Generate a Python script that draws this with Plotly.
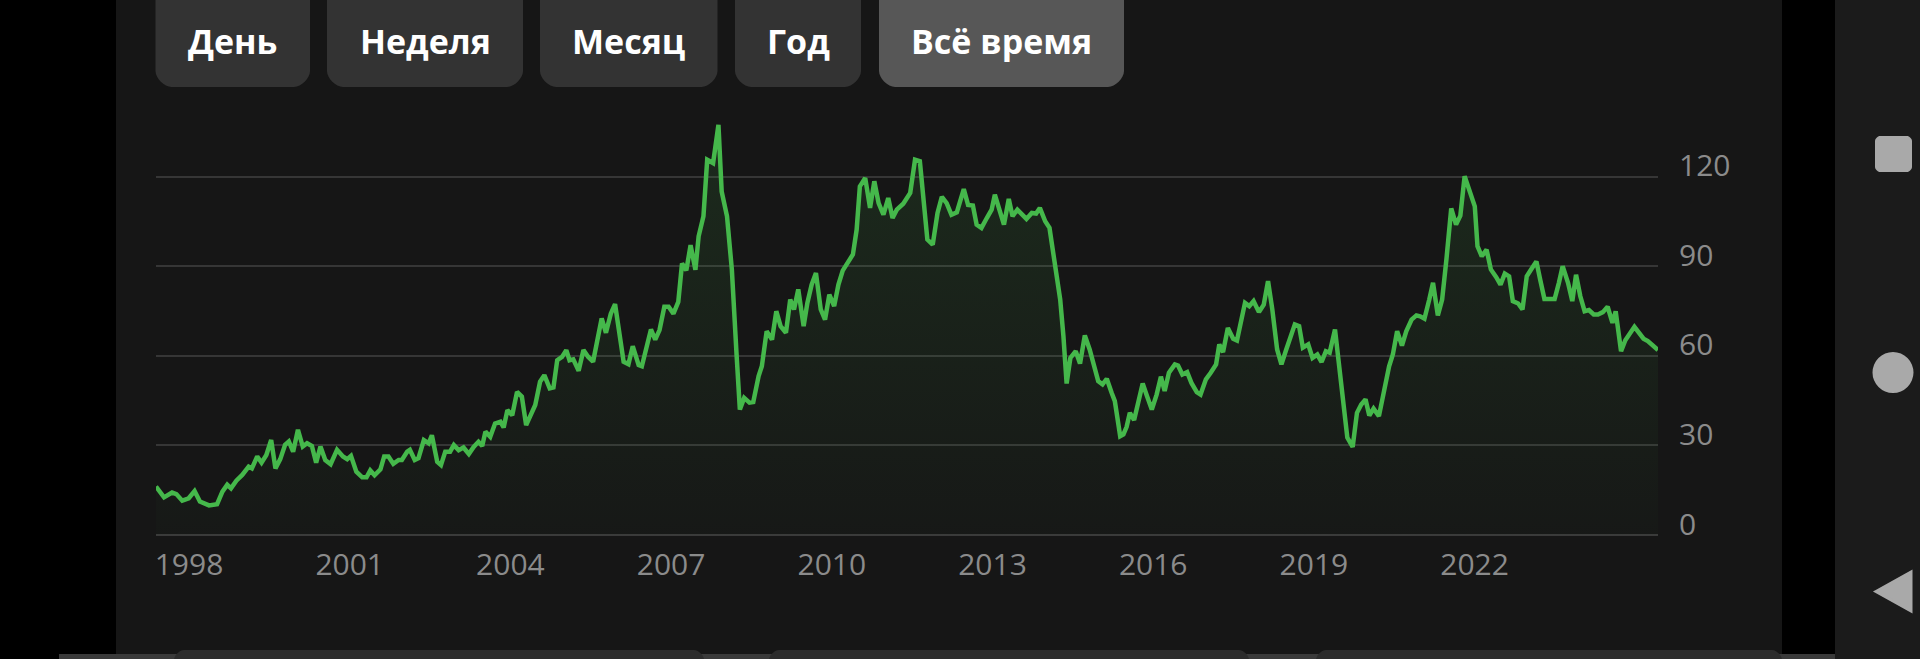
import plotly.graph_objects as go

# ---------------- data ----------------
dates = [
    1998.00, 1998.15, 1998.30, 1998.38, 1998.49, 1998.61, 1998.72, 1998.82, 1998.99,
    1999.14, 1999.24, 1999.33, 1999.40, 1999.50, 1999.61, 1999.73, 1999.79, 1999.89, 1999.97,
    2000.06, 2000.15, 2000.23, 2000.32, 2000.41, 2000.48, 2000.56, 2000.65, 2000.74, 2000.82, 2000.91, 2000.99,
    2001.07, 2001.16, 2001.26, 2001.38, 2001.49, 2001.57, 2001.64, 2001.74, 2001.85, 2001.93,
    2002.00, 2002.08, 2002.19, 2002.26, 2002.34, 2002.43, 2002.53, 2002.59, 2002.69, 2002.74, 2002.83, 2002.90,
    2003.00, 2003.09, 2003.15, 2003.25, 2003.32, 2003.40, 2003.49, 2003.56, 2003.65, 2003.74, 2003.84, 2003.93,
    2004.02, 2004.09, 2004.15, 2004.24, 2004.33, 2004.43, 2004.49, 2004.56, 2004.65, 2004.74, 2004.83, 2004.91, 2004.99,
    2005.08, 2005.17, 2005.25, 2005.35, 2005.42, 2005.49, 2005.58, 2005.66, 2005.72, 2005.79, 2005.89, 2005.98,
    2006.07, 2006.16, 2006.23, 2006.32, 2006.40, 2006.49, 2006.57, 2006.65, 2006.73, 2006.82, 2006.90,
    2007.01, 2007.07, 2007.16, 2007.24, 2007.32, 2007.40, 2007.49, 2007.57, 2007.66, 2007.75, 2007.82, 2007.90, 2007.98,
    2008.07, 2008.13, 2008.22, 2008.29, 2008.40, 2008.50, 2008.56, 2008.66, 2008.75, 2008.84, 2008.90, 2008.98,
    2009.08, 2009.15, 2009.25, 2009.31, 2009.40, 2009.50, 2009.58, 2009.66, 2009.76, 2009.84, 2009.91, 2009.99,
    2010.09, 2010.16, 2010.24, 2010.32, 2010.41, 2010.49, 2010.57, 2010.66, 2010.74, 2010.82, 2010.91,
    2011.01, 2011.08, 2011.14, 2011.24, 2011.33, 2011.41, 2011.49, 2011.58, 2011.67, 2011.75, 2011.83, 2011.95,
    2012.08, 2012.17, 2012.26, 2012.40, 2012.50, 2012.59, 2012.67, 2012.76, 2012.85, 2012.95,
    2013.08, 2013.16, 2013.25, 2013.32, 2013.41, 2013.51, 2013.60, 2013.66, 2013.74, 2013.83, 2013.92, 2013.99,
    2014.08, 2014.16, 2014.25, 2014.35, 2014.43, 2014.50, 2014.60, 2014.68, 2014.78, 2014.88, 2014.94,
    2015.00, 2015.07, 2015.17, 2015.25, 2015.34, 2015.43, 2015.50, 2015.59, 2015.67, 2015.75, 2015.84, 2015.90,
    2016.00, 2016.06, 2016.12, 2016.18, 2016.26, 2016.34, 2016.42, 2016.50, 2016.59, 2016.68, 2016.76, 2016.83, 2016.91,
    2017.02, 2017.08, 2017.16, 2017.25, 2017.33, 2017.43, 2017.50, 2017.60, 2017.69, 2017.79, 2017.85, 2017.92,
    2018.01, 2018.11, 2018.18, 2018.33, 2018.41, 2018.49, 2018.59, 2018.68, 2018.76, 2018.84, 2018.93,
    2019.01, 2019.10, 2019.18, 2019.26, 2019.34, 2019.41, 2019.51, 2019.59, 2019.68, 2019.76, 2019.84, 2019.91,
    2020.01, 2020.10, 2020.24, 2020.34, 2020.42, 2020.50, 2020.58, 2020.65, 2020.73, 2020.83, 2020.94,
    2021.02, 2021.09, 2021.17, 2021.26, 2021.34, 2021.44, 2021.53, 2021.60, 2021.68, 2021.77, 2021.84, 2021.93,
    2022.01, 2022.09, 2022.18, 2022.27, 2022.35, 2022.43, 2022.53, 2022.62, 2022.67, 2022.75, 2022.84, 2022.92,
    2023.02, 2023.10, 2023.18, 2023.26, 2023.33, 2023.43, 2023.51, 2023.59, 2023.68, 2023.77, 2023.84, 2023.92,
    2024.02, 2024.11, 2024.19, 2024.26, 2024.36, 2024.44, 2024.51, 2024.59, 2024.67, 2024.75, 2024.84, 2024.92,
    2025.01, 2025.10, 2025.19, 2025.25, 2025.35, 2025.43, 2025.60, 2025.68, 2025.77, 2025.85, 2026.04,
]

prices = [
    16.2, 12.6, 14.2, 13.7, 11.5, 12.3, 14.7, 11.2, 9.9,
    10.3, 14.5, 16.8, 15.6, 18.2, 20.1, 22.9, 22.3, 26.3, 24.2,
    26.8, 31.8, 22.3, 25.4, 30.2, 31.3, 27.9, 35.2, 29.6, 30.7, 29.8, 24.2,
    29.6, 25.1, 23.7, 28.5, 26.3, 25.4, 26.5, 21.2, 19.3, 19.3,
    21.6, 20.0, 22.0, 26.3, 26.3, 23.8, 25.1, 25.1, 27.9, 28.5, 25.1, 25.7,
    31.8, 30.7, 33.4, 24.5, 23.4, 27.9, 27.9, 30.1, 28.4, 29.3, 27.1, 29.5,
    31.2, 29.8, 34.6, 32.9, 37.3, 37.9, 36.0, 41.8, 40.1, 47.9, 46.3, 36.8, 39.6,
    43.5, 51.3, 53.5, 49.1, 49.4, 58.5, 59.6, 61.9, 58.5, 58.8, 55.0, 61.9,
    59.6, 58.0, 65.2, 72.5, 67.7, 74.1, 77.3, 67.4, 58.0, 57.2, 63.2,
    56.9, 56.5, 63.0, 68.8, 65.4, 68.6, 76.4, 76.4, 74.1, 78.0, 90.9, 88.6, 97.0,
    88.8, 100.0, 106.7, 125.6, 124.5, 137.3, 115.0, 106.7, 88.9, 59.9, 42.0, 45.9,
    44.3, 44.5, 53.2, 56.5, 68.2, 65.4, 74.9, 69.9, 67.7, 78.8, 75.5, 82.2,
    69.9, 77.7, 83.8, 87.7, 75.5, 72.1, 80.5, 76.6, 83.8, 88.5, 91.1,
    93.9, 102.2, 116.7, 119.5, 109.5, 118.4, 111.1, 107.2, 112.8, 106.1, 108.9, 110.9,
    114.5, 125.6, 125.1, 98.9, 97.2, 107.8, 113.2, 111.1, 107.2, 108.0,
    115.8, 110.5, 110.3, 103.9, 102.8, 106.1, 108.9, 113.9, 108.9, 103.9, 112.5, 106.7,
    108.9, 107.6, 105.8, 107.8, 107.6, 109.5, 105.0, 102.8, 90.0, 78.8, 66.6,
    50.7, 59.3, 61.5, 57.4, 66.8, 62.1, 57.6, 51.5, 50.4, 52.3, 47.6, 44.8,
    33.1, 33.7, 36.2, 40.9, 38.5, 45.4, 50.7, 46.5, 42.0, 47.0, 53.0, 48.2, 54.3,
    57.1, 56.7, 53.7, 54.5, 50.9, 47.8, 47.0, 52.1, 54.3, 57.1, 63.8, 61.2,
    69.3, 65.7, 65.1, 77.7, 76.6, 78.3, 74.6, 77.1, 85.0, 75.5, 62.1,
    57.1, 62.1, 66.0, 70.5, 69.9, 62.7, 63.8, 59.3, 60.4, 57.9, 61.5, 61.0,
    68.8, 54.3, 32.6, 29.5, 40.9, 43.7, 45.4, 40.0, 42.3, 39.8, 50.4,
    56.5, 60.4, 68.2, 63.4, 68.2, 72.1, 73.5, 73.2, 72.4, 78.8, 84.4, 73.5,
    78.8, 92.2, 109.3, 103.9, 106.9, 120.1, 114.5, 110.0, 96.7, 93.3, 95.5, 88.9,
    86.3, 83.8, 87.5, 86.6, 78.3, 77.5, 75.5, 86.6, 89.1, 91.6, 85.5, 79.0,
    79.0, 79.0, 84.4, 90.0, 84.4, 78.3, 87.1, 79.9, 74.9, 75.3, 73.8, 73.8,
    74.6, 76.4, 71.0, 74.9, 61.5, 65.2, 69.7, 67.9, 65.7, 64.9, 61.9,
]

x_tick_years = [1998, 2001, 2004, 2007, 2010, 2013, 2016, 2019, 2022]
x_tick_labels = ["1998", "2001", "2004", "2007", "2010", "2013", "2016", "2019", "2022"]
y_tick_values = [0, 30, 60, 90, 120]
y_tick_labels = ["0", "30", "60", "90", "120"]

period_buttons = ["День", "Неделя", "Месяц", "Год", "Всё время"]
active_button = "Всё время"

# ---------------- layout geometry (pixels) ----------------
FIG_W, FIG_H = 1920, 659
PL, PR = 156, 1658          # plot area left/right
PT, PB = 110, 538           # plot area top/bottom
W, H = PR - PL, PB - PT
UNIT = 2.9875               # px per value unit
Y_MIN = -(PB - 535) / UNIT
Y_MAX = Y_MIN + H / UNIT


def X(p):
    return (p - PL) / W


def Y(p):
    return (PB - p) / H


def rrect(x0, y0, x1, y1, r):
    k = 0.45 * r
    return (
        f"M {X(x0 + r)},{Y(y0)} L {X(x1 - r)},{Y(y0)} "
        f"C {X(x1 - r + k)},{Y(y0)} {X(x1)},{Y(y0 + r - k)} {X(x1)},{Y(y0 + r)} "
        f"L {X(x1)},{Y(y1 - r)} "
        f"C {X(x1)},{Y(y1 - r + k)} {X(x1 - r + k)},{Y(y1)} {X(x1 - r)},{Y(y1)} "
        f"L {X(x0 + r)},{Y(y1)} "
        f"C {X(x0 + r - k)},{Y(y1)} {X(x0)},{Y(y1 - r + k)} {X(x0)},{Y(y1 - r)} "
        f"L {X(x0)},{Y(y0 + r)} "
        f"C {X(x0)},{Y(y0 + r - k)} {X(x0 + r - k)},{Y(y0)} {X(x0 + r)},{Y(y0)} Z"
    )


def rect(x0, y0, x1, y1, color):
    return dict(type="rect", xref="paper", yref="paper", x0=X(x0), x1=X(x1),
                y0=Y(y1), y1=Y(y0), fillcolor=color, line=dict(width=0), layer="below")


GREEN = "#45b84b"
BG = "#161616"

fig = go.Figure()
fig.add_trace(go.Scatter(
    x=dates, y=prices, mode="lines",
    line=dict(color=GREEN, width=4.5),
    fill="tozeroy",
    fillgradient=dict(type="vertical", start=0, stop=140,
                      colorscale=[[0, "rgba(69,184,75,0.015)"], [1, "rgba(69,184,75,0.13)"]]),
    hoverinfo="skip", showlegend=False,
))

shapes = []
# side strips / nav bar
shapes.append(rect(0, -5, 116, 665, "#000000"))
shapes.append(rect(1782, -5, 1835, 665, "#000000"))
shapes.append(rect(1835, -5, 1925, 665, "#1b1b1b"))
# bottom bar and card tops
shapes.append(rect(59, 654, 1835, 665, "#3a3a3a"))
for cx0, cx1 in [(174, 704), (769, 1249), (1316, 1782)]:
    shapes.append(dict(type="path", xref="paper", yref="paper", path=rrect(cx0, 650, cx1, 672, 10),
                       fillcolor="#2c2c2c", line=dict(width=0), layer="below"))

# period buttons
btn_boxes = [(155.5, 310), (327, 523), (540, 717.5), (735, 861), (879, 1124)]
annotations = []
for label, (bx0, bx1) in zip(period_buttons, btn_boxes):
    col = "#575757" if label == active_button else "#333333"
    shapes.append(dict(type="path", xref="paper", yref="paper", path=rrect(bx0, -30, bx1, 87, 16),
                       fillcolor=col, line=dict(width=0), layer="below"))
    annotations.append(dict(text=label, xref="paper", yref="paper", x=X((bx0 + bx1) / 2), y=Y(41),
                            xanchor="center", yanchor="middle", showarrow=False,
                            font=dict(family="Open Sans", size=34, color="#ffffff", weight=700)))

# nav icons
ICON = "#a9a9a9"
shapes.append(dict(type="path", xref="paper", yref="paper", path=rrect(1875, 136, 1912, 172, 5),
                   fillcolor=ICON, line=dict(width=0)))
shapes.append(dict(type="circle", xref="paper", yref="paper", x0=X(1872.5), x1=X(1913.5),
                   y0=Y(393), y1=Y(352), fillcolor=ICON, line=dict(width=0)))
shapes.append(dict(type="path", xref="paper", yref="paper",
                   path=f"M {X(1876)},{Y(591.5)} L {X(1911)},{Y(572)} L {X(1911)},{Y(611)} Z",
                   fillcolor=ICON, line=dict(color=ICON, width=3)))

fig.update_layout(
    width=FIG_W, height=FIG_H,
    margin=dict(l=PL, r=FIG_W - PR, t=PT, b=FIG_H - PB, autoexpand=False),
    paper_bgcolor=BG, plot_bgcolor=BG,
    font=dict(family="Open Sans", color="#8b8b8b"),
    shapes=shapes, annotations=annotations,
    xaxis=dict(
        range=[1998.0, 2026.04], tickmode="array", tickvals=x_tick_years, ticktext=x_tick_labels,
        showgrid=False, zeroline=False, showline=False, ticks="",
        tickfont=dict(size=30, color="#8b8b8b", family="Open Sans"),
        ticklabelshift=33, ticklabelstandoff=6, fixedrange=True,
    ),
    yaxis=dict(
        range=[Y_MIN, Y_MAX], tickmode="array", tickvals=y_tick_values, ticktext=y_tick_labels,
        side="right", showgrid=True, gridcolor="#363636", gridwidth=2,
        zeroline=True, zerolinecolor="#3a3a3a", zerolinewidth=2, showline=False, ticks="",
        tickfont=dict(size=30, color="#8b8b8b", family="Open Sans"),
        ticklabelshift=-11, ticklabelstandoff=20, fixedrange=True,
    ),
)

fig.write_html(
    "out.html",
    config={"displayModeBar": False},
    post_script="document.body.style.margin='0';document.body.style.overflow='hidden';document.body.style.background='#161616';",
)
